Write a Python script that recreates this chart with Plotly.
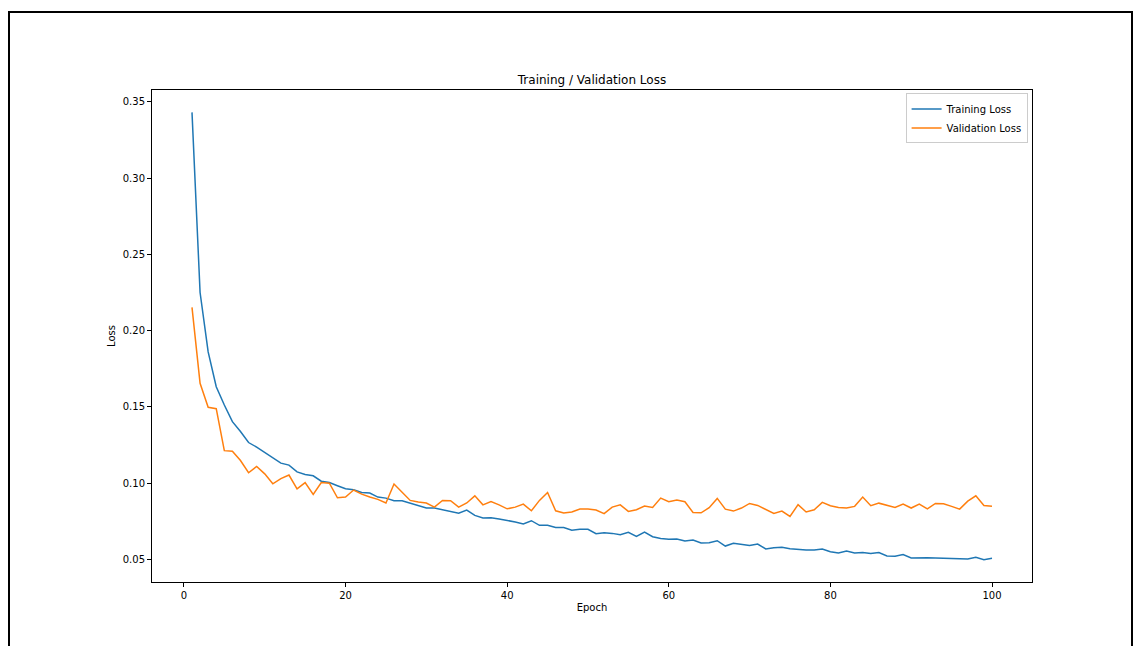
import plotly.graph_objects as go

epochs = list(range(1, 101))

training_loss = [
    0.343, 0.225, 0.1861, 0.1633, 0.1513, 0.1404, 0.1339, 0.1267, 0.1237, 0.1202,
    0.1171, 0.1132, 0.1119, 0.1075, 0.1058, 0.1049, 0.1014, 0.1005, 0.0984, 0.0964,
    0.0958, 0.0940, 0.0936, 0.0910, 0.0903, 0.0886, 0.0886, 0.0869, 0.0854, 0.0838,
    0.0838, 0.0825, 0.0817, 0.0804, 0.0825, 0.0790, 0.0773, 0.0775, 0.0766, 0.0758,
    0.0747, 0.0734, 0.0755, 0.0725, 0.0725, 0.0710, 0.0710, 0.0693, 0.0699, 0.0699,
    0.0670, 0.0676, 0.0672, 0.0663, 0.0679, 0.0652, 0.0681, 0.0650, 0.0639, 0.0633,
    0.0635, 0.0622, 0.0629, 0.0609, 0.0611, 0.0624, 0.0589, 0.0607, 0.0598, 0.0592,
    0.0602, 0.0570, 0.0578, 0.0581, 0.0572, 0.0565, 0.0563, 0.0563, 0.0570, 0.0552,
    0.0544, 0.0557, 0.0544, 0.0546, 0.0541, 0.0546, 0.0524, 0.0522, 0.0533, 0.0511,
    0.0513, 0.0513, 0.0511, 0.0509, 0.0507, 0.0504, 0.0504, 0.0515, 0.0500, 0.0509,
]

validation_loss = [
    0.2152, 0.1655, 0.1498, 0.1489, 0.1214, 0.1210, 0.1149, 0.1069, 0.1110, 0.1062,
    0.0997, 0.1031, 0.1054, 0.0964, 0.1005, 0.0927, 0.1005, 0.1001, 0.0905, 0.0910,
    0.0956, 0.0929, 0.0910, 0.0895, 0.0871, 0.0995, 0.0942, 0.0888, 0.0877, 0.0871,
    0.0844, 0.0888, 0.0886, 0.0844, 0.0871, 0.0918, 0.0859, 0.0881, 0.0859, 0.0833,
    0.0844, 0.0864, 0.0820, 0.0888, 0.0940, 0.0820, 0.0805, 0.0812, 0.0831, 0.0831,
    0.0825, 0.0801, 0.0844, 0.0859, 0.0816, 0.0827, 0.0851, 0.0842, 0.0903, 0.0879,
    0.0890, 0.0879, 0.0809, 0.0807, 0.0840, 0.0901, 0.0831, 0.0818, 0.0838, 0.0868,
    0.0855, 0.0829, 0.0803, 0.0818, 0.0783, 0.0860, 0.0812, 0.0827, 0.0875, 0.0853,
    0.0842, 0.0838, 0.0849, 0.0910, 0.0853, 0.0870, 0.0857, 0.0842, 0.0864, 0.0838,
    0.0864, 0.0833, 0.0868, 0.0866, 0.0849, 0.0831, 0.0883, 0.0918, 0.0855, 0.0849,
]

x_ticks = [0, 20, 40, 60, 80, 100]
y_ticks = [0.05, 0.10, 0.15, 0.20, 0.25, 0.30, 0.35]

W, H = 1134, 646
L, R, T, B = 152, 102, 90, 64
pw, ph = W - L - R, H - T - B

def px_to_paper_x(px):
    return (px - L) / pw

def px_to_paper_y(py):
    return (H - B - py) / ph

fig = go.Figure()
fig.add_trace(go.Scatter(x=epochs, y=training_loss, mode="lines", name="Training Loss",
                         line=dict(color="#1f77b4", width=1.5)))
fig.add_trace(go.Scatter(x=epochs, y=validation_loss, mode="lines", name="Validation Loss",
                         line=dict(color="#ff7f0e", width=1.5)))

xmin, xmax = min(epochs), max(epochs)
xpad = (xmax - xmin) * 0.05
all_y = training_loss + validation_loss
ymin, ymax = min(all_y), max(all_y)
ypad = (ymax - ymin) * 0.05

axis_common = dict(showline=True, linecolor="black", linewidth=1, mirror=True,
                   ticks="outside", ticklen=4, tickwidth=1, tickcolor="black",
                   showgrid=False, zeroline=False,
                   tickfont=dict(family="DejaVu Sans", size=10, color="black"))

fig.update_xaxes(range=[xmin - xpad, xmax + xpad], tickvals=x_ticks,
                 title=dict(text="Epoch", font=dict(family="DejaVu Sans", size=10, color="black"), standoff=3),
                 **axis_common)
fig.update_yaxes(range=[ymin - ypad, ymax + ypad], tickvals=y_ticks, tickformat=".2f",
                 title=dict(text="Loss", font=dict(family="DejaVu Sans", size=10, color="black"), standoff=5),
                 **axis_common)

# outer frame of the figure image
fig.add_shape(type="rect", xref="paper", yref="paper",
              x0=px_to_paper_x(9), x1=px_to_paper_x(1132),
              y0=px_to_paper_y(700), y1=px_to_paper_y(12),
              line=dict(color="black", width=2), fillcolor="rgba(0,0,0,0)", layer="above")

fig.update_layout(
    width=W, height=H,
    margin=dict(l=L, r=R, t=T, b=B, pad=0),
    paper_bgcolor="white", plot_bgcolor="white",
    title=dict(text="Training / Validation Loss", x=(L + pw / 2) / W, xanchor="center",
               y=1 - 80 / H, yanchor="middle",
               font=dict(family="DejaVu Sans", size=12, color="black")),
    legend=dict(x=0.995, y=0.993, xanchor="right", yanchor="top",
                bgcolor="rgba(255,255,255,0.8)", bordercolor="#cccccc", borderwidth=1,
                font=dict(family="DejaVu Sans", size=10, color="black"),
                itemwidth=30, tracegroupgap=0),
    font=dict(family="DejaVu Sans"),
)

fig.write_html("out.html")
